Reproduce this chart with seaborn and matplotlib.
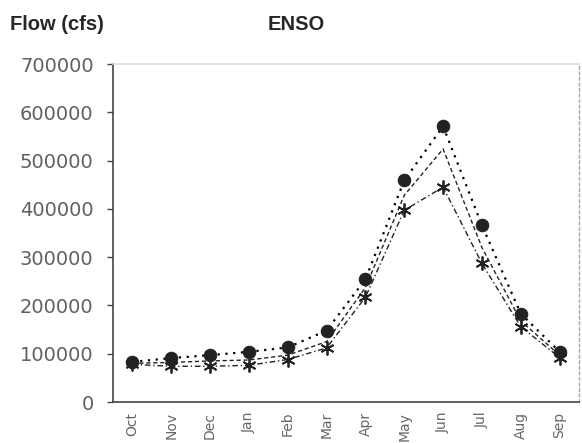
import numpy as np
import pandas as pd
import matplotlib
matplotlib.use("Agg")
import matplotlib.pyplot as plt
import seaborn as sns

months = ["Oct", "Nov", "Dec", "Jan", "Feb", "Mar", "Apr", "May", "Jun", "Jul", "Aug", "Sep"]
high = [83000, 91000, 97000, 104000, 113000, 148000, 254000, 459000, 571000, 366000, 183000, 104000]
mid = [80000, 82000, 85000, 87000, 97000, 125000, 237000, 428000, 524000, 320000, 168000, 97000]
low = [78000, 74000, 74000, 76000, 88000, 112000, 217000, 397000, 445000, 287000, 156000, 92000]
yticks = [0, 100000, 200000, 300000, 400000, 500000, 600000, 700000]

sns.set_style("white")
plt.rcParams['font.family'] = ['Liberation Sans', 'DejaVu Sans']

fig = plt.figure(figsize=(5.82, 4.43), dpi=100)
ax = fig.add_axes([113/582, 41/443, 466/582, 338/443])

pos = np.arange(len(months))
df = pd.DataFrame({"pos": np.tile(pos, 3),
                   "flow": high + mid + low,
                   "series": ["high"] * 12 + ["mid"] * 12 + ["low"] * 12})

sns.lineplot(data=df[df.series == "high"], x="pos", y="flow", ax=ax, color="black",
             linestyle=(0, (1, 2.5)), linewidth=1.6, marker="o", markersize=9,
             markeredgecolor="#222222", markerfacecolor="#222222", sort=False)
sns.lineplot(data=df[df.series == "mid"], x="pos", y="flow", ax=ax, color="#222222",
             linestyle=(0, (3, 2)), linewidth=1.0, sort=False)
sns.lineplot(data=df[df.series == "low"], x="pos", y="flow", ax=ax, color="#222222",
             linestyle=(0, (4, 2, 1, 2)), linewidth=1.0, marker=(6, 2, 0), markersize=10,
             markeredgewidth=1.3, markeredgecolor="#222222", sort=False)

ax.set_xlim(-0.5, 11.5)
ax.set_ylim(0, 700000)
ax.set_yticks(yticks)
ax.set_yticklabels([str(v) for v in yticks], fontsize=14, color="#606060",
                   family=["DejaVu Sans"])
ax.set_xticks(pos)
ax.set_xticklabels(months, rotation=90, fontsize=10, color="#666666",
                   family=["DejaVu Sans"])
ax.set_xticks(np.arange(-0.5, 12, 1), minor=True)
ax.tick_params(axis="x", which="major", length=0, pad=7)
ax.tick_params(axis="x", which="minor", length=3, width=1, color="#444444", direction="out")
ax.tick_params(axis="y", which="major", length=4, width=1, color="#444444", direction="out",
               left=True, pad=10)
ax.set_xlabel("")
ax.set_ylabel("")

for s in ["left", "bottom"]:
    ax.spines[s].set_color("#444444")
    ax.spines[s].set_linestyle((0, (2, 1)))
    ax.spines[s].set_linewidth(1.2)
ax.spines["right"].set_color("#aaaaaa")
ax.spines["right"].set_linestyle((0, (2, 2)))
ax.spines["right"].set_linewidth(1.0)
ax.spines["top"].set_color("#dddddd")
ax.spines["top"].set_linewidth(1.2)

fig.text(10/582, 1 - 24/443, "Flow (cfs)", fontsize=14.5, fontweight="bold", va="center", ha="left")
fig.text(296/582, 1 - 24/443, "ENSO", fontsize=14.5, fontweight="bold", va="center", ha="center")

fig.savefig("out.png", dpi=100)
